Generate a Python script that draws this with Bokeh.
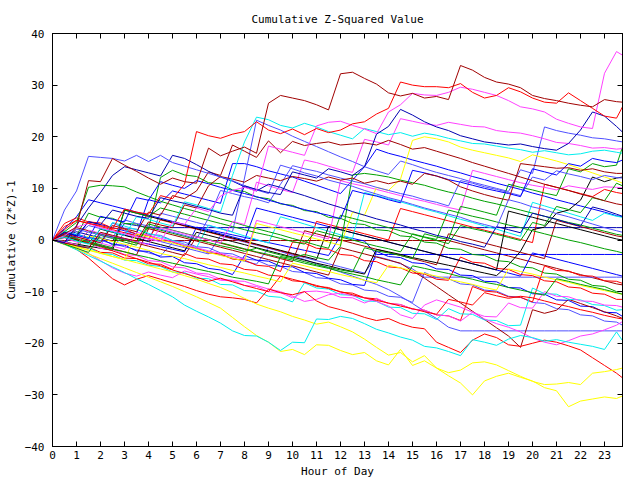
from bokeh.plotting import figure
from bokeh.models import Range1d, LinearAxis, FixedTicker
from bokeh.embed import file_html
from bokeh.resources import INLINE

HOURS = [0, 0.5, 1, 1.5, 2, 2.5, 3, 3.5, 4, 4.5, 5, 5.5, 6, 6.5, 7, 7.5,
         8, 8.5, 9, 9.5, 10, 10.5, 11, 11.5, 12, 12.5, 13, 13.5, 14, 14.5, 15, 15.5,
         16, 16.5, 17, 17.5, 18, 18.5, 19, 19.5, 20, 20.5, 21, 21.5, 22, 22.5, 23, 23.5, 23.75]
X_TICKS = [0, 1, 2, 3, 4, 5, 6, 7, 8, 9, 10, 11, 12, 13, 14, 15, 16, 17, 18, 19, 20, 21, 22, 23]
Y_TICKS = [-40, -30, -20, -10, 0, 10, 20, 30, 40]

s01 = [0, 1.2, 2.5, 11.5, 11.3, 15.8, 14.5, 13.3,
       12, 10.8, 12, 11.3, 11, 17.8, 16.3, 17.2,
       18, 16.8, 26.5, 28, 27.5, 27, 26.2, 25.2,
       32.2, 32.5, 31.3, 30.2, 28.5, 27.9, 28.4, 27.5,
       27.8, 27.2, 33.8, 32.9, 31.5, 30.6, 30.2, 29.5,
       28, 27.4, 27, 26.5, 26.1, 25.8, 27.2, 26.8, 26.7]
s02 = [0, 2, 3.8, 3.2, 2.8, 2.2, 6, 5.4,
       5, 8.6, 8, 10.8, 21, 20.2, 19.7, 20.5,
       21, 22.9, 21.3, 20.6, 21.5, 20.4, 21.6, 20.8,
       21.3, 22.5, 22.9, 24.4, 25.5, 30.6, 30, 29.7,
       29.7, 29.5, 30.3, 28.6, 27.5, 28, 29.5, 28.7,
       27.5, 26.7, 26.5, 28.5, 27, 25.5, 24, 23.6, 25.8]
s03 = [0, 0.8, 2.5, 3.2, 2.4, 1.8, 1.2, 0.6,
       0.2, -0.3, 3.5, 3, 6.2, 5.5, 8.5, 9.6,
       10.2, 9.5, 18.2, 17.6, 17, 16.4, 22.1, 22.8,
       23, 22.2, 21.5, 20.6, 24.8, 26.2, 28.4, 28.1,
       28, 28.6, 29.6, 29.2, 28.6, 28, 27, 25.8,
       25.4, 24.8, 23.4, 22.6, 21.9, 21.6, 32.3, 36.5, 35.8]
s04 = [0, 1.5, 0.8, 3.5, 3, 5.8, 5.2, 4.6,
       4.2, 8.2, 7.6, 7.1, 6.5, 5.9, 5.2, 4.8,
       10.5, 9.8, 9.2, 8.8, 13.2, 12.6, 12, 13.8,
       13.2, 12.5, 14.2, 20.5, 22, 25.3, 24.2, 22.9,
       21.9, 21.2, 20.2, 19.6, 19, 18.7, 18.4, 18.6,
       18.1, 17.7, 17.4, 18.7, 21.3, 24.8, 24, 22, 20.9]
s05 = [0, 0.6, -0.2, -0.8, 2.2, 1.6, 0.9, 4.5,
       4, 3.3, 2.7, 7.4, 6.8, 6.1, 5.4, 12.5,
       19, 23.8, 23.3, 22.2, 21.7, 22.6, 21.9, 21,
       20.3, 19.6, 21.6, 21, 20.4, 20.8, 20.1, 20.7,
       20.3, 19.7, 19.2, 18.7, 18.6, 18.2, 17.8, 17.5,
       17, 17.3, 16.9, 16.5, 16.7, 17.2, 17.4, 17, 16.8]
s06 = [0, 5.8, 9.5, 16.2, 16, 15.8, 15.3, 16.4,
       15.2, 16.4, 15, 14.3, 13.6, 12.9, 12.2, 11.5,
       10.5, 9.7, 9, 14.5, 13.8, 13, 12.4, 11.6,
       11, 10.4, 9.6, 8.9, 8.2, 7.6, 6.9, 6.2,
       5.6, 5, 4.4, 3.6, 3, 2.4, 7.8, 7.2,
       6.4, 5.9, 5.1, 4.5, 3.8, 3.1, 2.4, 1.8, 1.5]
s07 = [0, -0.5, 2.8, 6.2, 9.2, 12.5, 14.2, 13.6,
       13, 12.4, 16.4, 15.8, 14.6, 13.3, 12.2, 11.4,
       10.3, 9.5, 10.8, 10.2, 9.3, 8.6, 7.8, 7,
       6.3, 5.5, 4.8, 4.1, 3.5, 2.9, 2.2, 1.6,
       0.9, 0.4, -0.3, -0.8, -1.4, 2.6, 2, 1.4,
       5.2, 4.6, 4, 3.3, 2.7, 6.4, 5.8, 5, 4.6]
s08 = [0, 1.2, 0.6, 0, -0.5, 2.8, 2.2, 1.6,
       5.4, 4.8, 8.6, 8, 9.5, 13.2, 12.5, 18.4,
       17.2, 16, 19.2, 16.9, 19.1, 18.3, 18.7, 19,
       18.4, 18.6, 18.8, 18.4, 19.3, 18.5, 17.6, 17.9,
       17.2, 16.5, 15.8, 15, 14.3, 13.6, 12.9, 12.2,
       11.5, 10.8, 10.2, 9.6, 8.9, 8.3, 7.6, 7, 6.8]
s09 = [0, -0.6, -1.1, -1.6, 1.5, 0.9, 0.3, -0.2,
       3.5, 2.9, 2.4, 6.8, 6.2, 10.5, 12.3, 11.8,
       11.2, 12.5, 12, 11.5, 12.3, 11.9, 11.4, 12.2,
       11.6, 12, 11, 11.5, 10.9, 11.4, 10.8, 12.9,
       12.4, 11.6, 10.3, 9.5, 8.8, 8.2, 7.7, 14.8,
       14.5, 14.2, 13.9, 14, 13.5, 13.8, 13.2, 12.9, 12.9]
s10 = [0, -0.4, -0.9, 1.9, 1.3, 0.8, 0.3, -0.3,
       -0.9, 2.4, 1.8, 1.2, 0.6, 0, -0.6, 3.6,
       3, 11.2, 10.5, 9.8, 9.2, 15.5, 15, 14.3,
       13.6, 13.1, 19.5, 19, 18.4, 23.5, 23, 22.5,
       22.2, 22.8, 22.4, 22, 21.9, 21.2, 20.9, 20.7,
       20.2, 19.6, 18.9, 18.7, 18.3, 17.8, 17.9, 17.6, 17.7]
s11 = [0, 1.4, 0.9, 0.3, 4.6, 4, 3.5, 8.2,
       7.7, 11.3, 10.6, 10, 11.5, 10.9, 10.2, 9.6,
       9, 8.4, 7.7, 7.1, 6.5, 5.9, 5.3, 4.8,
       4.1, 9.6, 9, 8.5, 7.8, 7.2, 13.5, 13,
       12.4, 11.7, 11.2, 10.6, 10, 9.5, 9, 8.4,
       13.8, 13.2, 12.6, 14.8, 14.3, 15.8, 15.3, 15, 15.5]
s12 = [0, -0.7, 2.1, 1.5, 1, 0.4, 3.9, 3.2,
       2.7, 2.1, 1.5, 0.9, 0.2, 4.2, 9.6, 9,
       8.4, 7.9, 7.2, 10.8, 14.4, 13.8, 13.3, 12.6,
       12, 11.4, 10.9, 10.2, 9.6, 9, 8.5, 7.8,
       7.3, 6.6, 11.5, 11, 10.3, 9.8, 9.2, 8.6,
       12.2, 11.6, 13.4, 12.8, 12.3, 11.7, 12.5, 12.1, 12]
s13 = [0, 1.6, 3.4, 10.2, 10.6, 10.5, 10.3, 9.3,
       8.4, 7.5, 6.8, 6.1, 5.5, 4.8, 4.1, 3.5,
       2.8, 2.2, 1.6, 1, 0.3, -0.3, -1, -1.6,
       4.8, 4.2, 3.6, 3, 2.4, 1.8, 1.1, 0.5,
       -0.1, -0.7, 2.8, 2.2, 1.7, 1.1, 0.5, -0.1,
       3.4, 2.8, 6.5, 5.9, 5.3, 8.2, 7.6, 11, 10.5]
s14 = [0, -0.5, -1, 1.8, 1.2, 0.6, 0, -0.6,
       2.5, 1.9, 1.3, 0.7, 0.1, -0.5, -1.1, -1.6,
       -2.2, -1.6, -2.3, -2.9, -3.4, -2.8, -3.4, -3.9,
       -1.2, 12.6, 12.9, 12.6, 12.2, 11.6, 11.1, 10.6,
       9.9, 9.3, 8.8, 8.1, 7.5, 7, 6.4, 5.8,
       5.2, 4.6, 4, 3.4, 2.9, 2.3, 1.7, 1.1, 0.9]
s15 = [0, 0.5, -0.1, -0.7, -1.2, -1.8, -2.3, -2.9,
       -3.4, -4, -4.5, -5, -5.6, -6.1, -6.6, -7.2,
       -7.6, -8, -8.5, -3.2, -3.6, -4.2, -4.8, -5.3,
       -5.8, -6.2, -1.5, -2.1, -2.5, -3, -3.6, 1.2,
       0.6, 0.1, 6.5, 6, 5.4, 4.8, 10.8, 10.2,
       9.7, 9.1, 8.6, 13.8, 13.2, 14.8, 14.2, 14.5, 18]
s16 = [0, -0.8, -1.6, -2.4, 0.9, 0.3, -0.4, -1,
       3.1, 2.5, 1.9, 1.3, 0.7, 0.1, -0.5, -1.1,
       -1.7, -2.3, -2.8, -3.4, -3.9, -4.5, -5, -5.5,
       -6.1, -6.6, -7.1, -7.7, -8.2, -8.7, -5, -5.5,
       -6, -6.5, -7.1, -7.6, -8.2, -8.6, -9.2, -9.7,
       -10.2, -10.7, -7.5, -8, -8.6, -9.1, -9.6, -10.2, -10.5]
s17 = [0, 0.9, 0.3, -0.3, -0.9, -1.5, 5.8, 5.2,
       4.6, 6.2, 5.6, 5, 4.4, 3.8, 3.2, 2.6,
       2, 1.4, 0.9, 0.3, -0.3, -0.8, 1.8, 1.2,
       0.6, 0, -0.6, -1.2, -1.7, -2.3, 1.2, 0.6,
       0.1, 5.8, 5.2, 4.6, 4.1, 3.5, 2.9, 2.4,
       1.8, 1.2, 0.6, 0, -0.5, -1.1, -1.7, -2.2, -2.5]
s18 = [0, -0.8, -1.9, -3, -4.1, -5.2, -6.3, -7.5,
       -8.6, -9.8, -11, -12.6, -13.8, -14.9, -16.1, -17.6,
       -18.5, -18.6, -19.8, -21.4, -19.8, -19.9, -15.3, -15.4,
       -14.8, -15.2, -16.2, -17.3, -18, -18.8, -19.4, -20.6,
       -20.9, -21.6, -22.4, -19.3, -19.8, -20.4, -19.2, -18.5,
       -18.9, -19.6, -19.3, -19.8, -20.2, -20.6, -21.2, -17.8, -19.5]
s19 = [0, -0.6, -1.3, -1.9, -2.5, -3.2, -3.8, -4.4,
       -5, -5.6, -6.2, -6.9, -7.6, -8.4, -9.2, -10.2,
       -11.3, -12.4, -13.2, -13.9, -14.8, -15.5, -16.3, -15.9,
       -16.8, -17.8, -19.2, -20.8, -22.3, -21.8, -23.6, -22.4,
       -24.8, -25.7, -25.2, -23.8, -23.6, -24.2, -25.3, -26.4,
       -27.4, -28, -27.9, -27.6, -28, -25.8, -25.5, -25.1, -24.8]
s20 = [0, -0.9, -1.8, -2.7, -3.6, -4.5, -5.4, -6.3,
       -7.2, -8.1, -9, -10, -11, -12.1, -13.2, -15,
       -16.8, -18.5, -19.8, -21.6, -21.2, -22.2, -20.3, -20.4,
       -21.4, -22.2, -21.8, -23.4, -24.2, -21.2, -24.3, -23.4,
       -24.8, -26.3, -27.7, -30, -27.3, -26.4, -25.8, -26.6,
       -27.3, -28.6, -29.2, -32.3, -31.2, -30.8, -30.4, -30.7, -30.2]
s21 = [0, -0.7, -1.4, -2, -2.6, -3.2, -3.8, 1.2,
       0.6, 0, -0.6, -1.2, -1.8, -2.4, -3, -3.5,
       -4.1, 3.2, 2.6, 2, 1.4, 0.8, 0.2, -0.4,
       -1, 5.4, 4.8, 10.2, 9.6, 11.8, 19.3, 20,
       19.6, 19, 18, 17.4, 16.9, 16.4, 15.9, 15.2,
       16.5, 15.9, 15.3, 14.6, 13.8, 13, 12.2, 11.5, 11]
s22 = [0, -0.5, -1, 0.8, 0.3, -0.3, -0.8, -1.4,
       -2, -2.6, -3.1, -3.6, -4.2, -4.8, -5.3, -5.9,
       -6.4, -7, -7.5, -8.1, -4.5, -5, -5.6, -6.1,
       -6.7, -7.2, -7.8, -8.3, -4.9, -5.4, -6, -6.5,
       -7, -7.6, -8.1, -8.6, -9.2, -9.7, -5.6, -6.1,
       -6.6, -7.2, -7.7, -8.2, -8.8, -9.3, -9.8, -10.3, -10.5]
s23 = [0, -0.8, -1.8, -3.5, -5.5, -7.5, -8.7, -7.6,
       -6.9, -7.6, -8.3, -9, -9.8, -10.5, -11, -11.2,
       -11.5, -12.2, -9.5, -10.2, -10.6, -10, -11.8, -12.9,
       -13.5, -14.2, -15, -15.6, -15.2, -16.2, -16.9, -17.2,
       -19.8, -20.8, -21.8, -19.4, -18.2, -18.9, -20.3, -20.6,
       -20, -19.4, -19.8, -20.5, -21.3, -22.8, -24.3, -25.8, -26.7]
s24 = [0, 0.8, 0.2, -0.5, -1.3, -2.1, -2.9, -3.6,
       -4.3, -5, -5.8, -6.5, -7.2, -8, -7.4, -8.1,
       -8.8, -9.4, -10, -7, -7.6, -8.2, -8.8, -9.4,
       -10, -10.6, -11.2, -11.7, -12.2, -12.8, -13.3, -13.9,
       -14.4, -11.5, -12, -12.6, -10.2, -10.8, -11.3, -10.9,
       -11.2, -11.8, -12.4, -12.9, -13.5, -14, -14.6, -15.1, -15.3]
s25 = [0, -0.7, -1.5, -2.6, -4, -5.4, -6.4, -7,
       -6.2, -6.8, -7.3, -6, -6.6, -7.1, -7.8, -7.9,
       -8, -8.8, -9.5, -10, -10.9, -11.9, -11.5, -10.6,
       -10.3, -10.8, -11.2, -11.9, -12.8, -14.5, -15.2, -12.6,
       -11.6, -12.3, -13, -14, -15.3, -16.2, -16.9, -17.8,
       -19, -19.8, -20.3, -19.5, -18.6, -18.2, -17.4, -16.5, -15.8]
s26 = [0, 0.4, -0.4, -0.6, -1.6, -1.8, -2.8, -3.0,
       -4.0, -4.2, -5.2, -5.4, -6.4, -6.6, -7.6, -7.8,
       -8.8, -9.0, -10.0, -10.2, -11.2, -10.0, -9.9, -10.2,
       -11.1, -11.2, -12.2, -11.3, -12.3, -12.5, -13.4, -13.6,
       -14.5, -14.7, -15.7, -14.0, -14.8, -14.9, -12.2, -13.1,
       -13.2, -10.0, -10.9, -11.0, -11.8, -11.9, -12.6, -12.7, -13.0]
s27 = [0, 1.2, 0.6, 0, -0.6, -1.2, -1.8, 1.5,
       0.9, 0.3, -0.3, -0.9, -1.5, -2.1, -2.6, -3.2,
       -3.7, 3.8, 3.2, 2.6, 2, 1.4, 0.8, 0.2,
       11.5, 10.9, 10.4, 9.8, 9.2, 8.6, 8, 7.5,
       6.9, 6.3, 5.8, 13.5, 12.9, 12.3, 11.7, 11.1,
       10.6, 10.2, 9.7, 10.5, 10.1, 9.8, 10.3, 10.2, 10.1]
s28 = [0, -0.4, -0.8, -1.2, -1.6, -2, 5.8, 5.2,
       4.6, 4, 3.4, 2.8, 2.2, 1.6, 1, 0.4,
       -0.2, -0.8, -1.4, -2, -2.6, -3.2, -3.8, 2.6,
       2, 1.4, 0.8, 0.2, -0.4, -1, -1.6, -2.2,
       -2.8, -3.4, -4, -4.6, -5.2, -5.8, 5.6, 5,
       4.4, 3.8, 3.2, 2.6, 2, 1.4, 0.8, 0.2, 0]
s29 = [0, 0.6, 0, -0.6, 2.1, 1.5, 0.9, 0.3,
       -0.3, -0.9, -1.5, -2.1, 1.5, 0.9, 0.3, -0.3,
       -0.9, -1.5, -2.1, -2.7, -3.3, -3.9, -4.5, -5,
       -5.6, -6.1, -6.6, -1.8, -2.3, -2.8, -3.4, -3.9,
       -4.4, -4.9, -5.4, -5.9, -6.4, -6.9, -4.8, -2.2,
       2, 2.5, 5.2, 5.8, 7.7, 12.2, 11.3, 12, 12.2]
s30 = [0, 0.8, 1.6, 1, 0.4, -0.2, 3.2, 2.8,
       2.4, 2.4, 2.4, 2.4, 2.4, 2.4, 2.4, 2.4,
       2.4, 2.4, 2.4, 2.4, 2.4, 2.4, 2.4, 2.4,
       2.4, 2.4, 2.4, 2.4, 2.4, 2.4, 2.4, 2.4,
       2.4, 2.4, 2.4, 2.4, 2.4, 2.4, 2.4, 2.4,
       2.4, 2.4, 2.4, 2.4, 2.4, 2.4, 2.4, 2.4, 2.4]
s31 = [0, -0.1, -0.1, -0.1, -0.1, -0.1, -0.1, -0.1,
       -0.1, -0.1, -0.1, -0.1, -0.1, -0.1, -0.1, -0.1,
       -0.1, -0.1, -0.1, -0.1, -0.1, -0.1, -0.1, -0.1,
       -0.1, -0.1, -0.1, -0.1, -0.1, -0.1, -0.1, -0.1,
       -0.1, -0.1, -0.7, -1.3, -1.9, -2.5, -3.1, -3.7,
       -4.3, -4.9, -5.5, -6.1, -6.7, -7.3, -7.9, -8.5, -8.7]
s32 = [0, -0.5, -1, -1.5, 1.2, 0.7, 0.2, -0.3,
       -0.8, -1.3, -1.8, -2.3, 2.5, 2, 1.5, 1,
       0.5, 0, -0.5, -1, -1.5, -2, -2.5, -3,
       0.8, 0.3, -0.2, -2.8, -2.8, -2.8, -2.8, -2.8,
       -2.8, -2.8, -2.8, -2.8, -2.8, -2.8, -2.8, -2.8,
       -2.8, -2.8, -2.8, -2.8, -2.8, -2.8, -2.8, -2.8, -2.8]
s33 = [0, 0.7, 0.1, -0.5, -1.1, -1.7, 1.5, 0.9,
       0.3, -0.3, -0.9, -1.5, -2.1, -2.7, 0.8, 0.2,
       -0.4, -1, -1.6, -2.2, -2.8, -3.4, -4, -4.6,
       -5.2, -5.8, -6.4, -3.2, -3.8, -4.6, -5.6, -7.2,
       -7.2, -7.2, -7.2, -7.2, -7.2, -7.2, -7.2, -7.2,
       -7.2, -7.2, -7.2, -7.2, -7.2, -7.2, -7.2, -7.2, -7.2]
s34 = [0, -0.6, -1.2, 0.5, -0.1, -0.7, -1.3, -1.9,
       -2.5, -3.1, -0.5, -1.1, -1.7, -2.3, -2.9, -3.5,
       -4.1, -4.7, -1.5, -2.2, -3, -3.8, -4.6, -5.4,
       -6.2, -7, -7.8, -8.6, -9.6, -10.9, -12.3, -13.8,
       -15.2, -16.9, -17.6, -17.6, -17.6, -17.6, -17.6, -17.6,
       -17.6, -17.6, -17.6, -17.6, -17.6, -17.6, -17.6, -17.6, -17.6]
s35 = [0, 1.8, 1.1, 0.4, -0.3, 3.4, 2.7, 2,
       1.3, 0.6, -0.1, -0.8, -1.5, 2.9, 2.2, 1.5,
       0.8, 0.1, -0.6, 4.5, 3.8, 3.1, 2.4, 1.7,
       1, 0.3, 9.2, 8.6, 8, 7.4, 6.7, 6,
       5.4, 4.7, 4, 3.4, 2.7, 2.1, 1.4, 0.7,
       7.3, 6.6, 5.9, 5.2, 4.5, 3.8, 5.2, 4.6, 4.4]
s36 = [0, -0.3, -1.2, -1.5, -2.6, -2.8, -3.9, -4.0,
       -4.9, -5.1, -6.2, -6.3, -7.4, -7.5, -8.6, -8.7,
       -9.8, -9.9, -10.9, -11.1, -12.0, -8.3, -9.3, -9.5,
       -10.6, -10.7, -11.8, -11.9, -13.0, -13.1, -14.2, -14.3,
       -15.4, -13.3, -14.3, -14.4, -15.5, -15.6, -16.6, -16.5,
       -9.3, -10.4, -10.5, -11.5, -11.6, -12.5, -12.7, -13.6, -13.5]
s37 = [0, 2.6, 3.8, 3.2, 2.6, 2, 1.4, 0.8,
       0.2, 3.9, 3.3, 2.7, 2.1, 1.5, 0.9, 0.3,
       -0.3, -0.9, -1.5, -2.1, -2.7, -3.3, 3.6, 3,
       2.4, 1.8, 1.2, 0.6, 0, 6.1, 5.5, 4.9,
       4.3, 3.7, 3.1, 2.5, 1.9, 1.3, 0.7, 0.1,
       -0.5, 10.8, 10.2, 9.6, 9, 8.4, 9.8, 9.2, 9]
s38 = [0, -0.3, -1.3, -1.4, -2.4, -2.5, -3.5, -3.6,
       -4.6, -4.7, -5.7, -2.6, -3.5, -3.7, -4.6, -4.8,
       -5.7, -5.9, -6.8, -7.0, -7.9, -8.1, -9.0, -9.2,
       -10.1, -10.3, -11.2, -11.4, -12.3, -12.5, -13.4, -13.6,
       -14.5, -14.7, -15.6, -9.0, -9.9, -10.1, -11.0, -11.1,
       -12.0, -5.0, -5.9, -6.0, -6.9, -7.0, -7.9, -8.0, -8.4]
s39 = [0, 3.2, 4.3, 3.5, 3.3, 2.3, 2.1, 1.1,
       0.9, -0.1, -0.3, -1.3, -1.5, -2.5, -2.7, -3.7,
       -3.9, -4.9, -5.1, -6.1, -0.4, -0.6, -1.6, -1.8,
       -2.8, -3.0, -4.0, -4.2, -5.2, -5.4, -6.4, -6.6,
       -7.6, -7.8, -3.3, -4.3, -4.5, -5.5, -5.7, -6.7,
       -6.9, -7.9, -8.1, -9.1, -9.3, -10.3, -10.5, -11.5, -11.5]
s40 = [0, 0.7, 0.1, -0.5, -1.1, -1.7, -2.3, -2.9,
       2.2, 1.6, 1, 0.4, -0.2, -0.8, -1.4, -2,
       -2.6, -3.2, -3.8, -4.4, -5, -5.6, -6.2, -6.8,
       -1.5, -2.1, -2.7, -3.3, -3.9, -4.5, -6, -7.4,
       -9, -10.6, -12.2, -13.8, -15.4, -17, -18.6, -20.8,
       -13.5, -14.2, -13.6, -11.5, -12.3, -13.1, -13.9, -14.7, -15.2]
s41 = [0, -0.4, 2.4, 1.8, 1.2, 0.6, 0, -0.6,
       -1.2, -1.8, -2.4, -3, 0.6, 0, -0.6, -1.2,
       -1.8, -2.4, -3, -3.6, -4.2, 1.8, 1.2, 0.6,
       0, -0.6, -1.2, -1.8, -2.4, -3, -3.6, -4.2,
       -4.8, 1.2, 0.6, 0, -0.6, -1.2, -1.8, -2.4,
       -3, -3.6, 3.8, 3.2, 2.6, 2, 1.4, 0.8, 0.6]
s42 = [0, -0.6, 1.2, 0.4, 0.3, -0.9, -1.0, -2.1,
       -2.2, -3.3, -3.2, -4.4, -4.6, -5.5, -5.8, -6.7,
       -3.0, -3.9, -4.1, -5.1, -5.2, -6.3, -6.5, -7.4,
       -7.7, -8.6, -8.8, -2.2, -3.2, -3.4, -4.4, -4.6,
       -5.6, -5.7, -6.8, -6.9, -8.0, -8.1, -9.2, -9.3,
       -10.4, -10.5, -11.6, -11.7, -12.8, -12.9, -14.0, -14.1, -14.8]
s43 = [0, 2.2, 4.5, 7.8, 7.2, 6.6, 6, 5.4,
       4.8, 4.2, 3.6, 3, 2.4, 1.8, 1.2, 0.6,
       0, 6.2, 5.6, 5, 4.4, 3.8, 3.2, 2.6,
       2, 1.4, 0.8, 0.2, -0.4, -1, -1.6, -2.2,
       -2.8, -3.4, -4, -4.6, -5.2, -5.8, -6.4, -7,
       -2.5, -3.1, -3.7, -4.3, -4.9, -5.5, -6.1, -6.7, -7]
s44 = [0, 0.9, 0.1, -0.2, -1.1, 3.3, 2.3, 2.1,
       1.1, 0.9, -0.1, -0.4, -1.3, -1.5, -2.5, -2.7,
       -3.7, -3.9, -4.9, -5.1, -6.1, -6.3, -7.3, -7.5,
       -8.5, -8.7, -9.7, -9.9, -10.9, -11.1, -12.1, -6.3,
       -7.3, -7.5, -8.5, -8.7, -9.7, -9.9, -10.9, -11.1,
       -12.1, -12.3, -13.3, -13.5, -14.5, -14.7, -15.7, -15.9, -16.5]
s45 = [0, 1.5, 0.8, 2.8, 2.2, 1.6, 1, 0.4,
       -0.2, 5.2, 4.6, 4, 3.4, 2.8, 2.2, 1.6,
       12, 23.2, 22.2, 21.3, 20.1, 19.1, 18.1, 17.1,
       16.1, 15.2, 14.2, 13.4, 12.7, 15.3, 14.6, 13.8,
       13.1, 12.5, 11.9, 11.2, 10.6, 10, 9.4, 13.6,
       12.9, 21.9, 21.2, 20.7, 20.3, 19.8, 19.6, 19.2, 19]
s46 = [0, 1, 0.4, 3.6, 3, 2.4, 1.8, 1.2,
       7.8, 7.2, 9.5, 8.9, 8.3, 7.7, 7.1, 14.8,
       14.8, 14.2, 13.4, 12.8, 12.2, 11.4, 10.6, 9.8,
       9, 11.6, 14.2, 17.6, 16.8, 16.2, 15.5, 14.9,
       14.3, 13.6, 13, 12.3, 11.7, 11, 10.4, 9.8,
       9.1, 8.5, 7.8, 7.2, 6.6, 6, 5.4, 4.7, 4.5]
s47 = [0, -0.5, 0.8, 5.2, 4.4, 4.2, 3.2, 3.1,
       2.1, 12.1, 13.5, 12.6, 12.3, 11.1, 10.9, 9.7,
       9.4, 8.3, 8.0, 7.0, 6.7, 5.7, 5.5, 4.4,
       4.2, 3.2, 3.0, 2.0, 1.8, 0.8, 0.6, -0.4,
       -0.6, -1.6, -1.8, -2.8, -3.0, -4.0, -4.2, -5.2,
       -5.4, -6.4, -6.6, -7.6, -7.8, -8.8, -9.0, -10.0, -10.0]

SERIES = [s30, s31, s32, s33, s34, s47, s46, s45, s44, s43, s42, s41, s40, s39, s38,
          s37, s36, s35, s29, s28, s27, s26, s25, s24, s23, s22, s21, s20, s19, s18,
          s17, s16, s15, s14, s13, s12, s11, s10, s09, s08, s07, s06, s05, s04, s03,
          s02, s01]

RED, GREEN, BLUE, MAG, CYAN = "#ff0000", "#00a000", "#0000ff", "#ff40ff", "#00eeee"
DRED, YEL, BLK, LBLUE, DBLUE = "#a00000", "#ffff00", "#000000", "#5050ff", "#0000b0"
COLORS = [DBLUE, DRED, BLUE, LBLUE, LBLUE, GREEN, BLUE, LBLUE, LBLUE, BLUE, BLUE, DRED, DRED, RED, RED,
          RED, CYAN, CYAN, BLK, BLK, MAG, MAG, MAG, RED, RED, YEL, YEL, YEL, YEL, CYAN,
          GREEN, GREEN, GREEN, GREEN, GREEN, LBLUE, BLUE, MAG, DRED, DRED, DBLUE, LBLUE, CYAN, DBLUE, MAG,
          RED, DRED]

FONT = "DejaVu Sans Mono"

p = figure(width=640, height=480, output_backend="svg", toolbar_location=None,
           x_range=Range1d(0, 23.75), y_range=Range1d(-40, 40),
           min_border_left=52, min_border_right=18, min_border_top=33, min_border_bottom=33,
           title="Cumulative Z-Squared Value",
           x_axis_label="Hour of Day", y_axis_label="Cumulative (Z*Z)-1")

p.title.align = "center"
p.title.text_font = FONT
p.title.text_font_size = "11px"
p.title.text_font_style = "normal"
p.title.text_color = "black"
p.title.standoff = 16

p.xgrid.visible = False
p.ygrid.visible = False
p.outline_line_color = "black"
p.outline_line_width = 1
p.background_fill_color = "white"
p.border_fill_color = "white"

p.xaxis.ticker = FixedTicker(ticks=X_TICKS)
p.yaxis.ticker = FixedTicker(ticks=Y_TICKS)

for ax in list(p.xaxis) + list(p.yaxis):
    ax.major_tick_in = 5
    ax.major_tick_out = 0
    ax.minor_tick_line_color = None
    ax.axis_line_color = "black"
    ax.major_tick_line_color = "black"
    ax.major_label_text_font = FONT
    ax.major_label_text_font_size = "11px"
    ax.major_label_text_color = "black"
    ax.axis_label_text_font = FONT
    ax.axis_label_text_font_size = "11px"
    ax.axis_label_text_font_style = "normal"
    ax.axis_label_text_color = "black"

p.xaxis.major_label_standoff = 4
p.xaxis.axis_label_standoff = 3
p.yaxis.major_label_standoff = 8
p.yaxis.axis_label_standoff = 4

top = LinearAxis(ticker=FixedTicker(ticks=X_TICKS), major_tick_in=5, major_tick_out=0,
                 minor_tick_line_color=None, major_label_text_font_size="0px",
                 major_label_text_color=None, major_label_standoff=0, axis_line_color="black")
right = LinearAxis(ticker=FixedTicker(ticks=Y_TICKS), major_tick_in=5, major_tick_out=0,
                   minor_tick_line_color=None, major_label_text_font_size="0px",
                   major_label_text_color=None, major_label_standoff=0, axis_line_color="black")
p.add_layout(top, "above")
p.add_layout(right, "right")

for ys, col in zip(SERIES, COLORS):
    p.line(HOURS, ys, line_color=col, line_width=1)

open("out.html", "w").write(file_html(p, INLINE))
